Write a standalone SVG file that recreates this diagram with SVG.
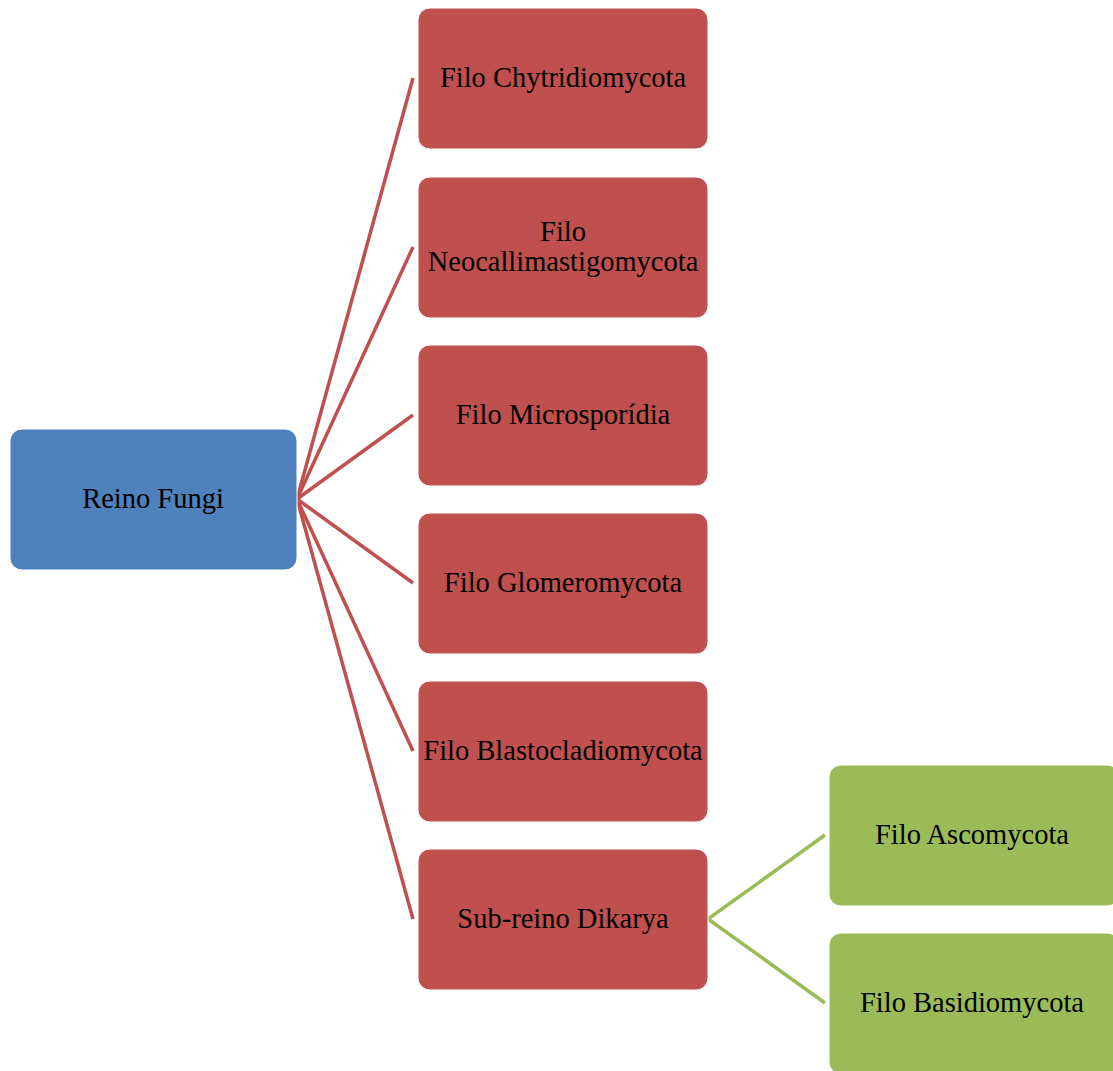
<svg xmlns="http://www.w3.org/2000/svg" width="1113" height="1071" viewBox="0 0 1113 1071">
<style>
.box{stroke:#ffffff;stroke-width:1}
.root{fill:#4F81BD}
.red{fill:#C0504D}
.green{fill:#9BBB59}
.lbl{font-family:"Liberation Serif","Times New Roman",serif;font-size:28.5px;fill:#000000;text-anchor:middle}
.cr{stroke:#C0504D;stroke-width:3.5;fill:none}
.cg{stroke:#9BBB59;stroke-width:3.5;fill:none}
</style>
<rect width="1113" height="1071" fill="#ffffff"/>
<g id="connectors">
<line class="cr" x1="297" y1="499" x2="413" y2="78"/>
<line class="cr" x1="297" y1="499" x2="413" y2="247"/>
<line class="cr" x1="297" y1="499" x2="413" y2="415"/>
<line class="cr" x1="297" y1="499" x2="413" y2="583"/>
<line class="cr" x1="297" y1="499" x2="413" y2="751"/>
<line class="cr" x1="297" y1="499" x2="413" y2="919"/>
<line class="cg" x1="708" y1="919" x2="825" y2="835"/>
<line class="cg" x1="708" y1="919" x2="825" y2="1003"/>
</g>
<g id="reino-fungi">
<rect class="box root" x="10" y="429" width="287" height="141" rx="12"/>
<text class="lbl" x="153" y="508">Reino Fungi</text>
</g>
<g id="chytridiomycota">
<rect class="box red" x="418" y="8" width="290" height="141" rx="12"/>
<text class="lbl" x="563" y="87">Filo Chytridiomycota</text>
</g>
<g id="neocallimastigomycota">
<rect class="box red" x="418" y="177" width="290" height="141" rx="12"/>
<text class="lbl" x="563" y="241">Filo</text>
<text class="lbl" x="563" y="271">Neocallimastigomycota</text>
</g>
<g id="microsporidia">
<rect class="box red" x="418" y="345" width="290" height="141" rx="12"/>
<text class="lbl" x="563" y="424">Filo Microsporídia</text>
</g>
<g id="glomeromycota">
<rect class="box red" x="418" y="513" width="290" height="141" rx="12"/>
<text class="lbl" x="563" y="592">Filo Glomeromycota</text>
</g>
<g id="blastocladiomycota">
<rect class="box red" x="418" y="681" width="290" height="141" rx="12"/>
<text class="lbl" x="563" y="760">Filo Blastocladiomycota</text>
</g>
<g id="dikarya">
<rect class="box red" x="418" y="849" width="290" height="141" rx="12"/>
<text class="lbl" x="563" y="928">Sub-reino Dikarya</text>
</g>
<g id="ascomycota">
<rect class="box green" x="829" y="765" width="290" height="141" rx="12"/>
<text class="lbl" x="972" y="844">Filo Ascomycota</text>
</g>
<g id="basidiomycota">
<rect class="box green" x="829" y="933" width="290" height="141" rx="12"/>
<text class="lbl" x="972" y="1012">Filo Basidiomycota</text>
</g>
</svg>
